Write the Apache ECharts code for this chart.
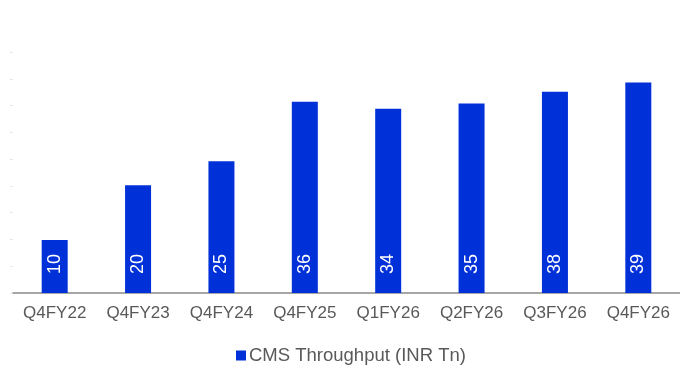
<!DOCTYPE html>
<html>
<head>
<meta charset="utf-8">
<script src="https://cdn.jsdelivr.net/npm/echarts@6/dist/echarts.min.js"></script>
<style>
  html, body { margin: 0; padding: 0; background: #fff; }
  #chart { width: 680px; height: 365px; }
</style>
</head>
<body>
<div id="chart"></div>
<script>
const categories = ["Q4FY22", "Q4FY23", "Q4FY24", "Q4FY25", "Q1FY26", "Q2FY26", "Q3FY26", "Q4FY26"];
// bar heights; labels show them rounded
const throughput = [9.9, 20.1, 24.6, 35.7, 34.4, 35.4, 37.6, 39.3];
const seriesName = "CMS Throughput (INR Tn)";

const chart = echarts.init(document.getElementById("chart"));
chart.setOption({
  animation: false,
  textStyle: { fontFamily: "Liberation Sans, Arial, sans-serif" },
  grid: { left: 13, right: -3, top: 52, bottom: 72 },
  legend: {
    bottom: 0,
    left: 236,
    padding: 0,
    itemWidth: 10,
    itemHeight: 10,
    itemGap: 5,
    icon: "rect",
    data: [seriesName],
    textStyle: { color: "#595959", fontSize: 18.5, padding: [0, 0, 0, -2] }
  },
  xAxis: {
    type: "category",
    data: categories,
    axisLine: { lineStyle: { color: "#a6a6a6", width: 2 } },
    axisTick: { show: false },
    axisLabel: { color: "#595959", fontSize: 17, margin: 12 }
  },
  yAxis: {
    type: "value",
    min: 0,
    max: 45,
    interval: 5,
    axisLine: { show: false },
    axisLabel: { show: false },
    splitLine: { show: false },
    axisTick: { show: true, length: 3, lineStyle: { color: "#e6e6e6" } }
  },
  series: [
    {
      name: seriesName,
      type: "bar",
      data: throughput,
      barWidth: 26,
      itemStyle: { color: "#0030D8" },
      label: {
        show: true,
        position: "insideBottom",
        rotate: 90,
        align: "center",
        verticalAlign: "middle",
        distance: 29,
        color: "#fff",
        fontSize: 18,
        formatter: p => Math.round(p.value)
      }
    }
  ]
});
</script>
</body>
</html>
